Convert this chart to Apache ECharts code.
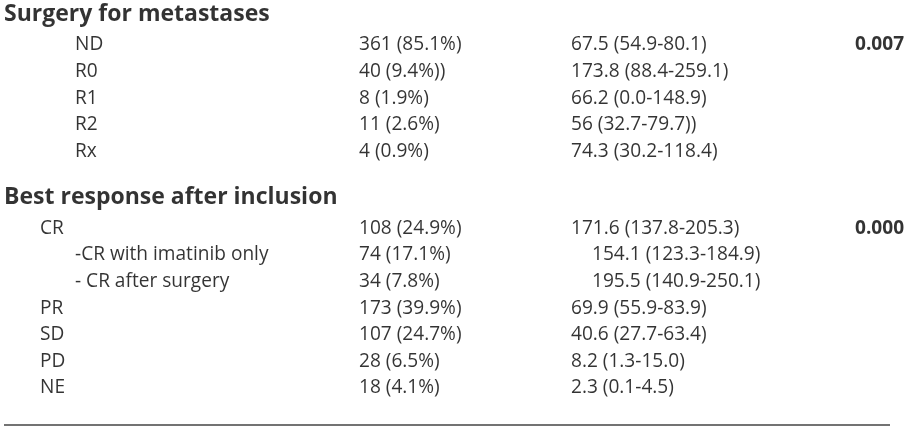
<!DOCTYPE html>
<html>
<head>
<meta charset="utf-8">
<script src="https://cdn.jsdelivr.net/npm/echarts@6/dist/echarts.min.js"></script>
<style>
html, body { margin: 0; padding: 0; background: #ffffff; }
#chart { width: 918px; height: 430px; }
</style>
</head>
<body>
<div id="chart"></div>
<script>
// ---------- Data ----------
const section1Title = 'Surgery for metastases';
const section1Labels = ['ND', 'R0', 'R1', 'R2', 'Rx'];
const section1LabelLevels = [1, 1, 1, 1, 1];
const section1MedianLevels = [0, 0, 0, 0, 0];
const section1N = ['361 (85.1%)', '40 (9.4%))', '8 (1.9%)', '11 (2.6%)', '4 (0.9%)'];
const section1Median = ['67.5 (54.9-80.1)', '173.8 (88.4-259.1)', '66.2 (0.0-148.9)', '56 (32.7-79.7))', '74.3 (30.2-118.4)'];
const section1P = '0.007';

const section2Title = 'Best response after inclusion';
const section2Labels = ['CR', '-CR with imatinib only', '- CR after surgery', 'PR', 'SD', 'PD', 'NE'];
const section2LabelLevels = [0, 1, 1, 0, 0, 0, 0];
const section2MedianLevels = [0, 1, 1, 0, 0, 0, 0];
const section2N = ['108 (24.9%)', '74 (17.1%)', '34 (7.8%)', '173 (39.9%)', '107 (24.7%)', '28 (6.5%)', '18 (4.1%)'];
const section2Median = ['171.6 (137.8-205.3)', '154.1 (123.3-184.9)', '195.5 (140.9-250.1)', '69.9 (55.9-83.9)', '40.6 (27.7-63.4)', '8.2 (1.3-15.0)', '2.3 (0.1-4.5)'];
const section2P = '0.000';

// ---------- Layout (styles, kept apart from data) ----------
const FONT = '"Open Sans", "Noto Sans", sans-serif';
const BODY_SIZE = 19.1;
const TITLE_SIZE = 23;
const TITLE_X = 4;
const LABEL_X = [40, 75];
const N_X = 359;
const MED_X = [571, 592];
const P_X = 855;
const ROW_STEP = 26.55;
const sections = [
  { title: section1Title, labels: section1Labels, lLv: section1LabelLevels, mLv: section1MedianLevels, n: section1N, med: section1Median, p: section1P, titleY: 14, rowY: 45 },
  { title: section2Title, labels: section2Labels, lLv: section2LabelLevels, mLv: section2MedianLevels, n: section2N, med: section2Median, p: section2P, titleY: 197.5, rowY: 228.5 }
];

const cells = [];
sections.forEach(function (s) {
  cells.push({ x: TITLE_X, y: s.titleY, text: s.title, bold: true, size: TITLE_SIZE });
  s.labels.forEach(function (lab, i) {
    const y = s.rowY + i * ROW_STEP;
    cells.push({ x: LABEL_X[s.lLv[i]], y: y, text: lab, bold: false, size: BODY_SIZE });
    cells.push({ x: N_X, y: y, text: s.n[i], bold: false, size: BODY_SIZE });
    cells.push({ x: MED_X[s.mLv[i]], y: y, text: s.med[i], bold: false, size: BODY_SIZE });
    if (i === 0) cells.push({ x: P_X, y: y, text: s.p, bold: true, size: BODY_SIZE });
  });
});

const chart = echarts.init(document.getElementById('chart'), null, { renderer: 'canvas' });
chart.setOption({
  animation: false,
  backgroundColor: '#ffffff',
  grid: { left: 0, right: 0, top: 0, bottom: 0 },
  xAxis: { type: 'value', min: 0, max: 918, show: false },
  yAxis: { type: 'value', min: 0, max: 430, inverse: true, show: false },
  series: [{
    type: 'scatter',
    symbolSize: 0,
    silent: true,
    data: cells.map(function (c) {
      return {
        value: [c.x, c.y],
        label: {
          show: true,
          position: 'right',
          distance: 0,
          formatter: c.text,
          color: '#000000',
          fontFamily: FONT,
          fontSize: c.size,
          fontWeight: c.bold ? 'bold' : 'normal',
          align: 'left',
          verticalAlign: 'middle'
        }
      };
    })
  }],
  graphic: [{
    type: 'line',
    shape: { x1: 4, y1: 425, x2: 890, y2: 425 },
    style: { stroke: '#444444', lineWidth: 1.6 }
  }]
});
</script>
</body>
</html>
